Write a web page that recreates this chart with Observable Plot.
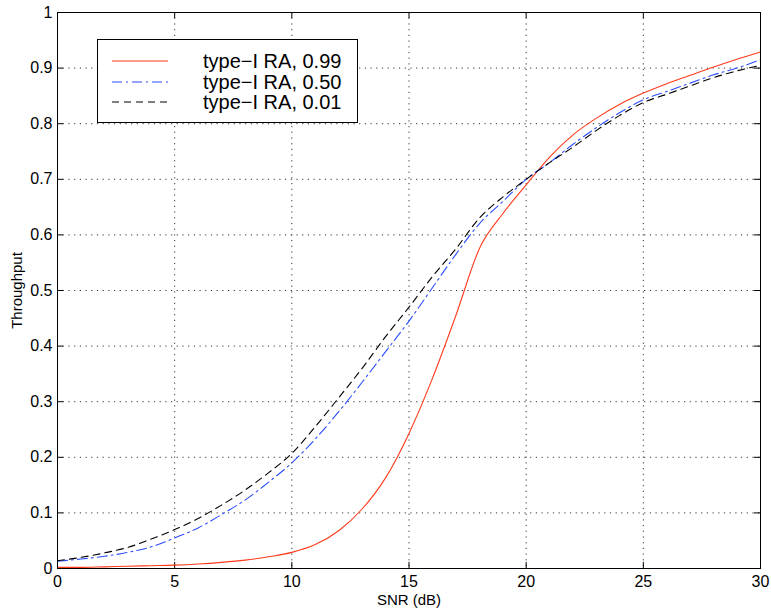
<!DOCTYPE html>
<html><head><meta charset="utf-8">
<script src="https://cdn.jsdelivr.net/npm/d3@7"></script>
<script src="https://cdn.jsdelivr.net/npm/@observablehq/plot@0.6"></script>
<style>
html,body{margin:0;padding:0;background:#fff;}
#wrap{position:relative;width:771px;height:609px;font-family:"Liberation Sans",Arial,Helvetica,sans-serif;}
#legend{position:absolute;left:97px;top:39px;width:261px;height:84px;border:1px solid #000;background:#fff;box-sizing:border-box;}
.row{position:absolute;left:0;height:20px;width:100%;}
.row svg{position:absolute;left:14px;top:0;}
.row span{position:absolute;left:105px;top:-1px;font-size:20px;line-height:22px;color:#000;white-space:nowrap;}
</style></head>
<body><div id="wrap"></div>
<script>
const snr = [0,1,2,3,4,5,6,7,8,9,10,11,12,13,14,15,16,17,18,19,20,21,22,23,24,25,26,27,28,29,30];
const ra099 = [0.002,0.002,0.003,0.004,0.005,0.006,0.008,0.011,0.015,0.021,0.029,0.043,0.068,0.107,0.163,0.243,0.342,0.455,0.575,0.638,0.69,0.74,0.78,0.81,0.835,0.855,0.872,0.887,0.902,0.916,0.929];
const ra050 = [0.013,0.017,0.022,0.029,0.039,0.055,0.073,0.097,0.123,0.155,0.19,0.233,0.282,0.335,0.39,0.445,0.505,0.565,0.62,0.66,0.7,0.73,0.763,0.793,0.82,0.843,0.858,0.873,0.888,0.9,0.915];
const ra001 = [0.014,0.02,0.028,0.038,0.053,0.07,0.09,0.114,0.141,0.172,0.207,0.255,0.307,0.36,0.417,0.47,0.525,0.575,0.63,0.668,0.7,0.73,0.758,0.788,0.815,0.838,0.853,0.868,0.883,0.895,0.905];
const seriesNames = ["type\u2212I RA, 0.99","type\u2212I RA, 0.50","type\u2212I RA, 0.01"];
const xTicks = [0,5,10,15,20,25,30];
const yTicks = [0,0.1,0.2,0.3,0.4,0.5,0.6,0.7,0.8,0.9,1];
const yTickLabels = ["0","0.1","0.2","0.3","0.4","0.5","0.6","0.7","0.8","0.9","1"];

const colors = ["#ff3a1a","#2b4dff","#000000"];
const dashes = [null,"10,4,2,4","7,5"];

const rows = [];
[ra099, ra050, ra001].forEach((arr, k) => {
  arr.forEach((v, i) => rows.push({snr: snr[i], thr: v, s: k}));
});

const grid = {stroke:"#333", strokeDasharray:"1.2,4.5", strokeWidth:1};
const chart = Plot.plot({
  width: 771, height: 609,
  marginLeft: 57, marginRight: 11, marginTop: 12, marginBottom: 41,
  style: {fontFamily: '"Liberation Sans",Arial,Helvetica,sans-serif', background:"#fff", color:"#000", fontSize:"16px"},
  x: {domain:[0,30]},
  y: {domain:[0,1]},
  marks: [
    Plot.ruleX(xTicks.slice(1,-1), {x: d=>d, ...grid}),
    Plot.ruleY(yTicks.slice(1,-1), {y: d=>d, ...grid}),
    Plot.ruleX(xTicks, {x: d=>d, y1: 0, y2: 0.011, stroke:"#000"}),
    Plot.ruleX(xTicks, {x: d=>d, y1: 1, y2: 0.989, stroke:"#000"}),
    Plot.ruleY(yTicks, {y: d=>d, x1: 0, x2: 0.26, stroke:"#000"}),
    Plot.ruleY(yTicks, {y: d=>d, x1: 30, x2: 29.74, stroke:"#000"}),
    ...[0,1,2].map(k => Plot.line(rows.filter(r=>r.s===k), {x:"snr", y:"thr", stroke: colors[k], strokeWidth: 1.1, strokeDasharray: dashes[k], curve:"monotone-x"})),
    Plot.frame({stroke:"#000", strokeWidth:1}),
    Plot.axisX({ticks: xTicks, tickSize: 0, tickPadding: 7, fontSize: 16, tickFormat: d=>String(d), label: null}),
    Plot.axisX({ticks: [], tickSize: 0, fontSize: 15,
      label: "SNR (dB)", labelAnchor: "center", labelOffset: 36, labelArrow: false}),
    Plot.axisY({ticks: yTicks, tickSize: 0, tickPadding: 5, fontSize: 16, tickFormat: d => yTickLabels[yTicks.indexOf(d)], label: null}),
    Plot.axisY({ticks: [], tickSize: 0, fontSize: 15,
      label: "Throughput", labelAnchor: "center", labelOffset: 46, labelArrow: false})
  ]
});
const wrap = document.getElementById("wrap");
wrap.appendChild(chart);

const leg = document.createElement("div");
leg.id = "legend";
seriesNames.forEach((name, k) => {
  const row = document.createElement("div");
  row.className = "row";
  row.style.top = (11 + k*20.5) + "px";
  row.innerHTML = `<svg width="56" height="20"><line x1="0" x2="56" y1="10" y2="10" stroke="${colors[k]}" stroke-width="1.2" ${dashes[k] ? `stroke-dasharray="${dashes[k]}"` : ""}/></svg><span>${name}</span>`;
  leg.appendChild(row);
});
wrap.appendChild(leg);
</script>
</body></html>
